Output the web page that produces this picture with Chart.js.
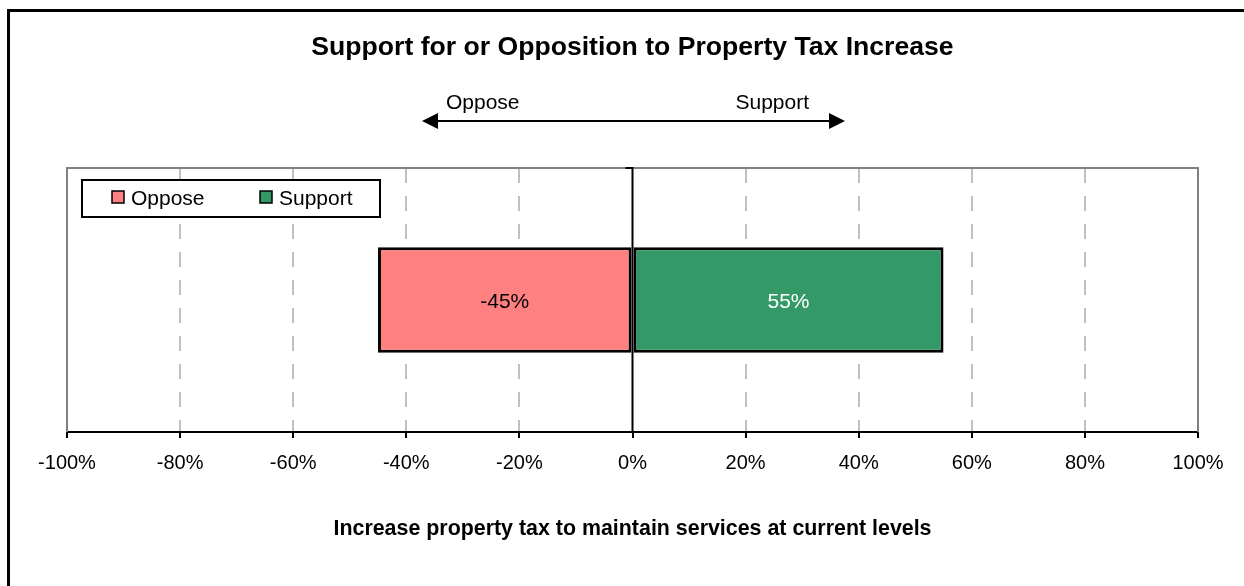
<!DOCTYPE html>
<html>
<head>
<meta charset="utf-8">
<title>Property Tax Increase</title>
<script src="https://cdn.jsdelivr.net/npm/chart.js@4.4.1/dist/chart.umd.min.js"></script>
<style>
  body { margin: 0; background: #fff; }
  #wrap { position: relative; width: 1244px; height: 586px; }
  #frame {
    position: absolute; left: 7px; top: 9px; width: 1300px; height: 700px;
    border-top: 3px solid #000; border-left: 3px solid #000; pointer-events: none;
  }
  canvas { position: absolute; left: 0; top: 0; }
</style>
</head>
<body>
<div id="wrap">
  <canvas id="chart" width="1244" height="586"></canvas>
  <div id="frame"></div>
</div>
<script>
// data
const categories = ['Increase property tax to maintain services at current levels'];
const seriesNames = ['Oppose', 'Support'];
const opposeValues = [-45];
const supportValues = [55];
const tickValues = [-100, -80, -60, -40, -20, 0, 20, 40, 60, 80, 100];

const chartTitle = 'Support for or Opposition to Property Tax Increase';
const FONT = '"Liberation Sans", Arial, sans-serif';

// title + the oppose/support arrow above the plot
const headerPlugin = {
  id: 'header',
  afterDraw(chart) {
    const ctx = chart.ctx;
    const cx = (chart.chartArea.left + chart.chartArea.right) / 2;
    ctx.save();
    ctx.fillStyle = '#000';
    ctx.font = 'bold 26.6px ' + FONT;
    ctx.textAlign = 'center';
    ctx.textBaseline = 'alphabetic';
    ctx.fillText(chartTitle, cx, 55);

    // double-headed arrow
    const x1 = 422, x2 = 845, y = 121;
    ctx.strokeStyle = '#000';
    ctx.lineWidth = 2;
    ctx.beginPath();
    ctx.moveTo(x1 + 10, y);
    ctx.lineTo(x2 - 10, y);
    ctx.stroke();
    ctx.beginPath();
    ctx.moveTo(x1, y); ctx.lineTo(x1 + 16, y - 8); ctx.lineTo(x1 + 16, y + 8); ctx.closePath();
    ctx.moveTo(x2, y); ctx.lineTo(x2 - 16, y - 8); ctx.lineTo(x2 - 16, y + 8); ctx.closePath();
    ctx.fill();

    ctx.font = '21px ' + FONT;
    ctx.textAlign = 'left';
    ctx.fillText(seriesNames[0], 446, 109);
    ctx.textAlign = 'right';
    ctx.fillText(seriesNames[1], 809, 109);
    ctx.restore();
  }
};

// gray plot frame, zero line, legend box, bar values, axis title
const overlayPlugin = {
  id: 'overlay',
  beforeDatasetsDraw(chart) {
    const { ctx, chartArea: a } = chart;
    ctx.save();
    ctx.strokeStyle = '#808080';
    ctx.lineWidth = 2;
    ctx.beginPath();
    ctx.moveTo(a.left, a.bottom);
    ctx.lineTo(a.left, a.top);
    ctx.lineTo(a.right, a.top);
    ctx.lineTo(a.right, a.bottom);
    ctx.stroke();
    ctx.restore();
  },
  afterDatasetsDraw(chart) {
    const { ctx, chartArea: a, scales } = chart;
    const x0 = scales.x.getPixelForValue(0);
    ctx.save();
    ctx.strokeStyle = '#000';
    ctx.lineWidth = 2;
    ctx.beginPath();
    ctx.moveTo(x0 - 7, a.top);
    ctx.lineTo(x0, a.top);
    ctx.lineTo(x0, a.bottom);
    ctx.stroke();

    // value labels in the bars
    ctx.font = '21px ' + FONT;
    ctx.textAlign = 'center';
    ctx.textBaseline = 'alphabetic';
    const labelColors = ['#000', '#fff'];
    chart.data.datasets.forEach((ds, i) => {
      chart.getDatasetMeta(i).data.forEach((bar, j) => {
        const p = bar.getCenterPoint();
        ctx.fillStyle = labelColors[i];
        ctx.fillText(ds.data[j] + '%', p.x, p.y + 8);
      });
    });

    // legend
    ctx.fillStyle = '#fff';
    ctx.fillRect(82, 180, 298, 37);
    ctx.strokeStyle = '#000';
    ctx.lineWidth = 2;
    ctx.strokeRect(82, 180, 298, 37);
    ctx.font = '21px ' + FONT;
    ctx.textAlign = 'left';
    const legendX = [112, 260];
    chart.data.datasets.forEach((ds, i) => {
      ctx.fillStyle = ds.backgroundColor;
      ctx.fillRect(legendX[i], 191, 12, 12);
      ctx.lineWidth = 1.5;
      ctx.strokeRect(legendX[i], 191, 12, 12);
      ctx.fillStyle = '#000';
      ctx.fillText(ds.label, legendX[i] + 19, 205);
    });

    // axis title
    ctx.font = 'bold 21.4px ' + FONT;
    ctx.textAlign = 'center';
    ctx.fillText(categories[0], (a.left + a.right) / 2, 535);
    ctx.restore();
  }
};

new Chart(document.getElementById('chart'), {
  type: 'bar',
  data: {
    labels: categories,
    datasets: [
      {
        label: seriesNames[0],
        data: opposeValues,
        backgroundColor: '#FF8080',
        borderColor: '#000',
        borderWidth: 3,
        borderSkipped: false
      },
      {
        label: seriesNames[1],
        data: supportValues,
        backgroundColor: '#339966',
        borderColor: '#000',
        borderWidth: 3,
        borderSkipped: false
      }
    ]
  },
  options: {
    indexAxis: 'y',
    responsive: false,
    animation: false,
    layout: { padding: { left: 67, right: 46, top: 168, bottom: 0 } },
    datasets: { bar: { barPercentage: 0.4, categoryPercentage: 1 } },
    scales: {
      x: {
        stacked: true,
        min: tickValues[0],
        max: tickValues[tickValues.length - 1],
        afterBuildTicks: (scale) => { scale.ticks = tickValues.map(v => ({ value: v })); },
        afterFit: (scale) => { scale.height = 154; },
        ticks: {
          callback: (v) => v + '%',
          color: '#000',
          padding: 13,
          maxRotation: 0,
          autoSkip: false,
          font: { family: FONT, size: 20 }
        },
        grid: {
          color: (c) => (c.tick && (c.tick.value === 0 || Math.abs(c.tick.value) === 100)) ? 'rgba(0,0,0,0)' : '#c0c0c0',
          lineWidth: 2,
          tickLength: 6,
          tickColor: '#000',
          tickWidth: 2
        },
        border: { display: true, color: '#000', width: 2, dash: [15, 13] }
      },
      y: {
        stacked: true,
        display: false
      }
    },
    plugins: {
      legend: { display: false },
      title: { display: false },
      tooltip: { enabled: false }
    }
  },
  plugins: [headerPlugin, overlayPlugin]
});
</script>
</body>
</html>
